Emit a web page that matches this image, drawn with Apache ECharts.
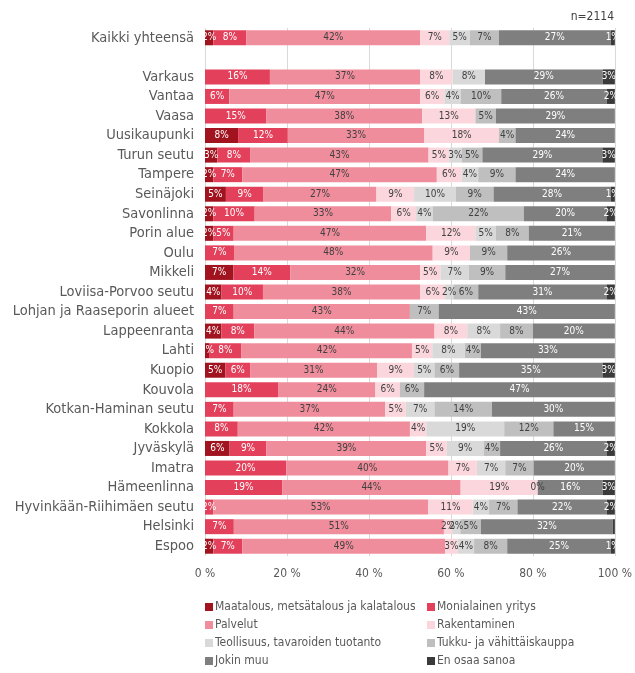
<!DOCTYPE html>
<html>
<head>
<meta charset="utf-8">
<script src="https://cdn.jsdelivr.net/npm/echarts@6.0.0/dist/echarts.min.js"></script>
<style>
  html, body { margin: 0; padding: 0; background: #fff; }
  #chart { width: 635px; height: 673px; }
</style>
</head>
<body>
<div id="chart"></div>
<script>
// alueet ylhäältä alas (tyhjä rivi yhteensä-rivin jälkeen)
var categories = ['Kaikki yhteensä', '', 'Varkaus', 'Vantaa', 'Vaasa', 'Uusikaupunki', 'Turun seutu',
  'Tampere', 'Seinäjoki', 'Savonlinna', 'Porin alue', 'Oulu', 'Mikkeli', 'Loviisa-Porvoo seutu',
  'Lohjan ja Raaseporin alueet', 'Lappeenranta', 'Lahti', 'Kuopio', 'Kouvola', 'Kotkan-Haminan seutu',
  'Kokkola', 'Jyväskylä', 'Imatra', 'Hämeenlinna', 'Hyvinkään-Riihimäen seutu', 'Helsinki', 'Espoo'];

var seriesNames = ['Maatalous, metsätalous ja kalatalous', 'Monialainen yritys', 'Palvelut', 'Rakentaminen',
  'Teollisuus, tavaroiden tuotanto', 'Tukku- ja vähittäiskauppa', 'Jokin muu', 'En osaa sanoa'];

var maatalous   = [2, null, null, null, null, 8, 3, 2, 5, 2, 2, null, 7, 4, null, 4, 1, 5, null, null, null, 6, null, null, null, null, 2];
var monialainen = [8, null, 16, 6, 15, 12, 8, 7, 9, 10, 5, 7, 14, 10, 7, 8, 8, 6, 18, 7, 8, 9, 20, 19, 2, 7, 7];
var palvelut    = [42, null, 37, 47, 38, 33, 43, 47, 27, 33, 47, 48, 32, 38, 43, 44, 42, 31, 24, 37, 42, 39, 40, 44, 53, 51, 49];
var rakentaminen= [7, null, 8, 6, 13, 18, 5, 6, 9, 6, 12, 9, 5, 6, null, 8, 5, 9, 6, 5, 4, 5, 7, 19, 11, 2, 3];
var teollisuus  = [5, null, 8, 4, null, null, 3, 4, 10, 4, 5, null, 7, 2, null, 8, 8, 5, null, 7, 19, 9, 7, null, 4, 2, 4];
var tukku       = [7, null, null, 10, 5, 4, 5, 9, 9, 22, 8, 9, 9, 6, 7, 8, 4, 6, 6, 14, 12, 4, 7, 0, 7, 5, 8];
var jokinMuu    = [27, null, 29, 26, 29, 24, 29, 24, 28, 20, 21, 26, 27, 31, 43, 20, 33, 35, 47, 30, 15, 26, 20, 16, 22, 32, 25];
var eiOsaa      = [1, null, 3, 2, null, null, 3, null, 1, 2, null, null, null, 2, null, null, null, 3, null, null, null, 2, null, 3, 2, 0.5, 1];

var xTicks = [0, 20, 40, 60, 80, 100];

var colors = ['#a0131f', '#e3405b', '#f08d9c', '#fbd7dd', '#d9d9d9', '#bfbfbf', '#7f7f7f', '#3a3a3a'];
var labelColors = ['#fff', '#fff', '#404040', '#404040', '#404040', '#404040', '#fff', '#fff'];
var allData = [maatalous, monialainen, palvelut, rakentaminen, teollisuus, tukku, jokinMuu, eiOsaa];

// 100 % pinottu: skaalataan rivisumma sataan
var sums = categories.map(function (c, i) {
  var s = 0;
  allData.forEach(function (arr) { if (arr[i] != null) s += arr[i]; });
  return s;
});

var FONT = "'DejaVu Sans Condensed', 'Liberation Sans Narrow', sans-serif";

var series = allData.map(function (arr, k) {
  return {
    name: seriesNames[k],
    type: 'bar',
    stack: 'total',
    barWidth: 15,
    itemStyle: { color: colors[k] },
    label: {
      show: true,
      position: 'inside',
      color: labelColors[k],
      fontSize: 10,
      fontFamily: FONT,
      formatter: function (p) {
        var v = p.data.raw;
        if (v == null) return '';
        if (v > 0 && v < 1) return '';
        return v + '%';
      }
    },
    data: arr.map(function (v, i) {
      if (v == null) return { value: '-', raw: null };
      return { value: v / sums[i] * 100, raw: v };
    })
  };
});

var legendText = { color: '#595959', fontSize: 12, fontFamily: FONT, padding: [0, 0, 0, -3] };

var chart = echarts.init(document.getElementById('chart'));
chart.setOption({
  animation: false,
  textStyle: { fontFamily: FONT },
  title: {
    text: 'n=2114',
    right: 16,
    top: 6,
    textStyle: { fontSize: 12, fontWeight: 'normal', color: '#404040', fontFamily: FONT }
  },
  grid: { left: 205, right: 13, top: 28, bottom: 117 },
  legend: [
    {
      data: [seriesNames[0], seriesNames[2], seriesNames[4], seriesNames[6]],
      orient: 'vertical',
      left: 200, top: 596,
      itemWidth: 8, itemHeight: 8, itemGap: 6,
      icon: 'rect',
      textStyle: legendText
    },
    {
      data: [seriesNames[1], seriesNames[3], seriesNames[5], seriesNames[7]],
      orient: 'vertical',
      left: 422, top: 596,
      itemWidth: 8, itemHeight: 8, itemGap: 6,
      icon: 'rect',
      textStyle: legendText
    }
  ],
  xAxis: {
    type: 'value',
    min: xTicks[0],
    max: xTicks[xTicks.length - 1],
    interval: xTicks[1] - xTicks[0],
    axisLine: { show: false },
    axisTick: { show: false },
    splitLine: { show: true, lineStyle: { color: '#d9d9d9', width: 1 } },
    axisLabel: { formatter: '{value} %', color: '#595959', fontSize: 12, margin: 12, fontFamily: FONT }
  },
  yAxis: {
    type: 'category',
    inverse: true,
    data: categories,
    axisLine: { show: false },
    axisTick: { show: false },
    axisLabel: { color: '#595959', fontSize: 14.5, margin: 11, fontFamily: FONT }
  },
  series: series
});
</script>
</body>
</html>
